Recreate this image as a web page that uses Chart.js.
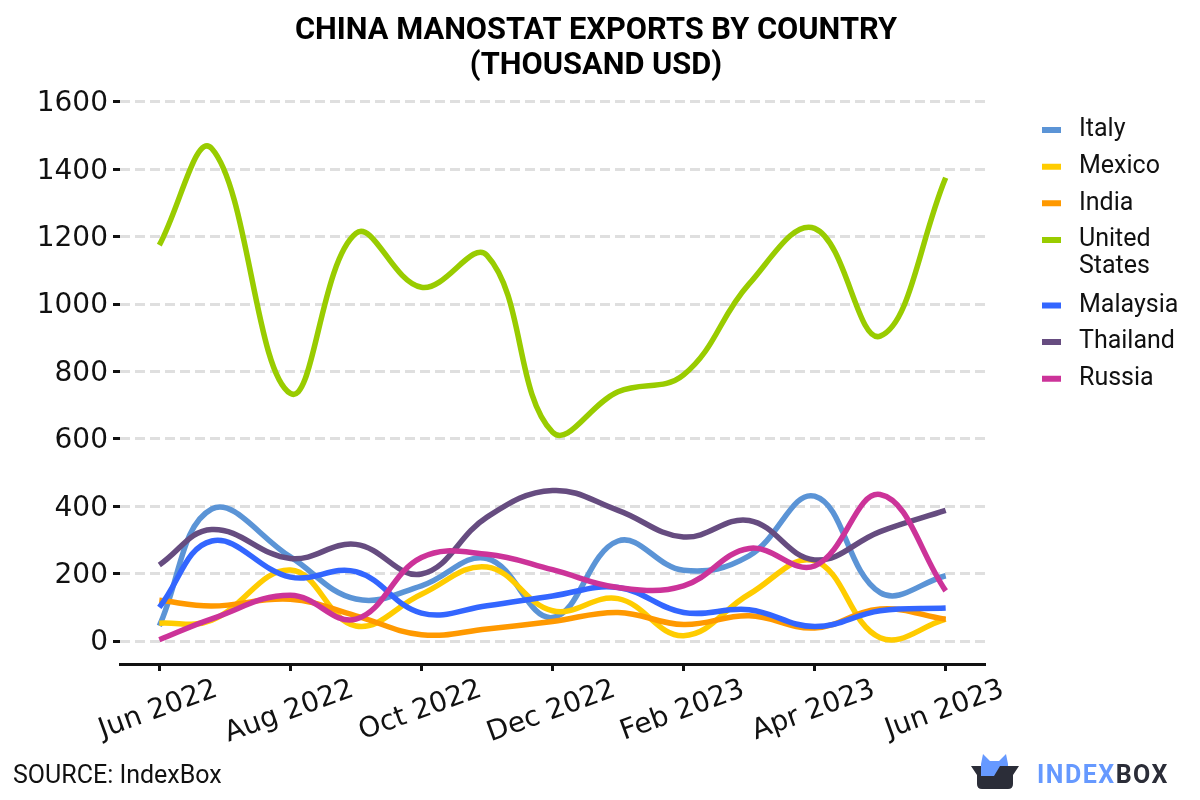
<!DOCTYPE html>
<html>
<head>
<meta charset="utf-8">
<title>China Manostat Exports By Country</title>
<script src="https://cdn.jsdelivr.net/npm/chart.js@4"></script>
<style>
    html, body { margin: 0; padding: 0; background: #fff; }
    #wrap { position: relative; width: 1200px; height: 800px; overflow: hidden; font-family: Roboto, sans-serif; }
    #chart { position: absolute; left: 0; top: 0; }
    #source { position: absolute; left: 13px; top: 761px; font-size: 25px; line-height: 28px; color: #111; }
    #logo { position: absolute; left: 970px; top: 752px; }
    #brand { position: absolute; left: 1037px; top: 760px; font-size: 25px; line-height: 30px; font-weight: 700; letter-spacing: 1.5px; color: #2b2d38; }
    #brand span { color: #6699ff; }
</style>
</head>
<body>
<div id="wrap">
    <canvas id="chart" width="1192" height="800"></canvas>
    <div id="source">SOURCE: IndexBox</div>
    <svg id="logo" width="50" height="38" viewBox="0 0 50 38">
        <path d="M11 12 L13 2 L20 9 L29 9 L36 2 L38 12 L38 24 L11 24 Z" fill="#6699ff"/>
        <path d="M1 14 L11 14 L11 24 L24 24 L30 14 L49 14 L43 23 L43 32 Q43 37 38 37 L12 37 Q7 37 7 32 L7 23 Z" fill="#2b2d38"/>
    </svg>
    <div id="brand"><span>INDEX</span>BOX</div>
</div>
<script>
const tickLabels = { 0: 'Jun 2022', 2: 'Aug 2022', 4: 'Oct 2022', 6: 'Dec 2022', 8: 'Feb 2023', 10: 'Apr 2023', 12: 'Jun 2023' };
const yTicks = [0, 200, 400, 600, 800, 1000, 1200, 1400, 1600];
const xTicks = [0, 2, 4, 6, 8, 10, 12];
// the second reading sits a bit before its month in the picture
const monthPos = [0, 0.8, 2, 3, 4, 5, 6, 7, 8, 9, 10, 11, 12];

const italy = [45, 392, 250, 125, 164, 245, 70, 297, 210, 253, 430, 144, 194];
const mexico = [53, 62, 211, 45, 139, 220, 90, 126, 16, 139, 238, 10, 65];
const india = [121, 104, 124, 75, 19, 36, 58, 85, 49, 75, 39, 95, 65];
const unitedStates = [1175, 1462, 735, 1210, 1050, 1145, 620, 740, 790, 1060, 1225, 905, 1375];
const malaysia = [100, 297, 190, 206, 83, 105, 134, 159, 85, 93, 43, 90, 98];
const thailand = [226, 331, 245, 287, 199, 368, 447, 388, 309, 358, 241, 325, 388];
const russia = [4, 66, 136, 65, 248, 258, 212, 159, 164, 275, 223, 435, 149];

function series(label, values, color, i) {
    return {
        label: label,
        data: values.map((v, n) => ({ x: monthPos[n], y: v })),
        borderColor: color,
        backgroundColor: color,
        borderWidth: 5.5,
        pointRadius: 0,
        tension: 0.4,
        order: 6 - i // last country has to end up on top
    };
}

// Legend sits in a wide fixed column, lower than the library would put it
const legendLeft = 1042 - 11.6;
const legendPlace = {
    id: 'legendPlace',
    beforeLayout(chart) {
        const legend = chart.legend;
        if (legend.fitPatched) return;
        const fit = legend.fit;
        legend.fit = function () {
            fit.call(this);
            this.width = 207;
        };
        legend.fitPatched = true;
    },
    afterLayout(chart) {
        const legend = chart.legend;
        legend.left = legendLeft;
        legend.right = legend.left + 207;
        legend.top = 106;
        legend.bottom = legend.top + legend.height;
    }
};

// Rotated labels are right aligned by the library, the reference centres them on the tick
const centerXLabels = {
    id: 'centerXLabels',
    beforeDraw(chart) {
        const axis = chart.scales.x;
        const ctx = chart.ctx;
        ctx.save();
        ctx.font = '28px "DejaVu Sans"';
        axis.getLabelItems().forEach(item => {
            if (item.shifted) return;
            const w = ctx.measureText(item.label).width;
            item.options.translation[0] += w / 2 * Math.cos(20 * Math.PI / 180) - 1;
            item.shifted = true;
        });
        ctx.restore();
    }
};

// swatch is shorter than the gap the library keeps before the text
function legendLabels(chart) {
    return Chart.defaults.plugins.legend.labels.generateLabels(chart).map(item => {
        const color = item.strokeStyle;
        const fill = chart.ctx.createLinearGradient(1042, 0, 1066.5, 0);
        fill.addColorStop(0, color);
        fill.addColorStop(0.78, color);
        fill.addColorStop(0.78, 'rgba(255,255,255,0)');
        fill.addColorStop(1, 'rgba(255,255,255,0)');
        return Object.assign(item, { fillStyle: fill, lineWidth: 0 });
    });
}

new Chart(document.getElementById('chart'), {
    type: 'line',
    data: {
        datasets: [
            series('Italy', italy, '#5b94d6', 0),
            series('Mexico', mexico, '#ffcc00', 1),
            series('India', india, '#ff9900', 2),
            series(['United', 'States'], unitedStates, '#99cc00', 3),
            series('Malaysia', malaysia, '#3366ff', 4),
            series('Thailand', thailand, '#664c80', 5),
            series('Russia', russia, '#cc3399', 6)
        ]
    },
    plugins: [legendPlace, centerXLabels],
    options: {
        responsive: false,
        animation: false,
        layout: { padding: 0 },
        scales: {
            x: {
                type: 'linear',
                min: -0.6,
                max: 12.6,
                afterBuildTicks: (axis) => { axis.ticks = xTicks.map(v => ({ value: v })); },
                afterFit: (axis) => { axis.height = 136; },
                grid: { display: true, drawOnChartArea: false, tickColor: '#111', tickLength: 7, tickWidth: 3 },
                border: { display: true, color: '#111', width: 3 },
                ticks: {
                    autoSkip: false,
                    minRotation: 20,
                    maxRotation: 20,
                    padding: 2,
                    color: '#111',
                    font: { family: 'DejaVu Sans', size: 28 },
                    callback: (v) => tickLabels[v]
                }
            },
            y: {
                min: -68,
                max: 1600,
                afterBuildTicks: (axis) => { axis.ticks = yTicks.map(v => ({ value: v })); },
                afterFit: (axis) => { axis.width = 120; },
                grid: { color: '#dfdfdf', lineWidth: 3, tickColor: '#111', tickLength: 7, tickWidth: 3, tickBorderDash: [] },
                border: { display: false, dash: [10, 5] },
                ticks: {
                    padding: 5,
                    labelOffset: 2,
                    color: '#111',
                    font: { family: 'DejaVu Sans', size: 28 },
                    callback: (v) => String(v)
                }
            }
        },
        plugins: {
            title: {
                display: true,
                text: ['CHINA MANOSTAT EXPORTS BY COUNTRY', '(THOUSAND USD)'],
                color: '#000',
                font: { family: 'Roboto', size: 30.8, weight: 'bold', lineHeight: 1.136 },
                padding: { top: 14, bottom: 18 }
            },
            legend: {
                position: 'right',
                align: 'start',
                labels: {
                    boxWidth: 24.5,
                    boxHeight: 6,
                    padding: 11.6,
                    color: '#111',
                    font: { family: 'Roboto', size: 25, lineHeight: 1.08 },
                    generateLabels: legendLabels,
                    sort: (a, b) => a.datasetIndex - b.datasetIndex
                }
            },
            tooltip: { enabled: false }
        }
    }
});
</script>
</body>
</html>
